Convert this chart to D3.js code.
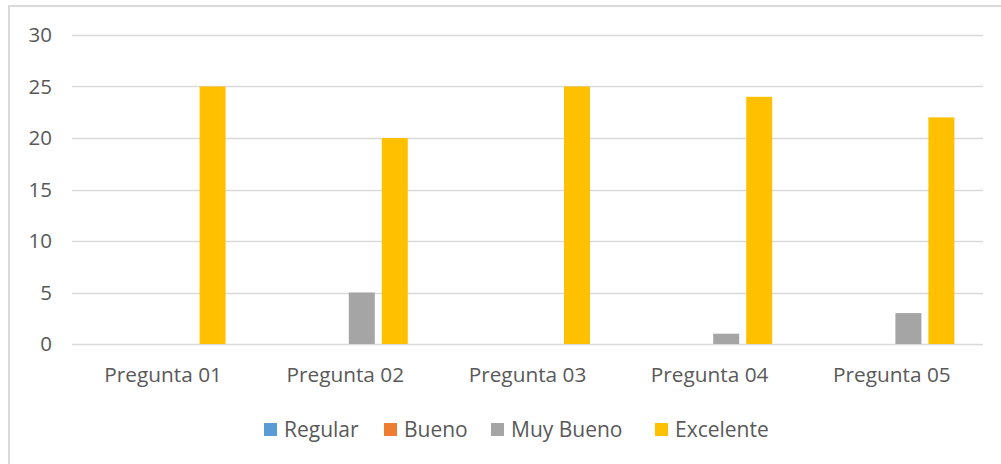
<!DOCTYPE html>
<html><head><meta charset="utf-8">
<script src="https://cdn.jsdelivr.net/npm/d3@7"></script>
<style>
html,body{margin:0;padding:0;background:#fff;}
svg{display:block;}
text{font-family:"Open Sans","Segoe UI",sans-serif;fill:#595959;}
</style></head>
<body>
<svg id="c" width="1001" height="464"></svg>
<script>
const categories = ["Pregunta 01","Pregunta 02","Pregunta 03","Pregunta 04","Pregunta 05"];
const seriesNames = ["Regular","Bueno","Muy Bueno","Excelente"];
const regular = [0,0,0,0,0];
const bueno = [0,0,0,0,0];
const muyBueno = [0,5,0,1,3];
const excelente = [25,20,25,24,22];
const yTicks = [0,5,10,15,20,25,30];
const colors = ["#5B9BD5","#ED7D31","#A5A5A5","#FFC000"];

(function(){
const seriesValues = [regular,bueno,muyBueno,excelente];
const svg = d3.select("#c");

// chart border
svg.append("rect").attr("x",9).attr("y",6).attr("width",1010).attr("height",470)
  .attr("fill","none").attr("stroke","#d9d9d9").attr("stroke-width",2);

const pL=72, pR=983, pT=35, pB=344;
const y = d3.scaleLinear().domain([0,30]).range([pB,pT]);
const x0 = d3.scaleBand().domain(categories).range([pL,pR]).padding(0);
const groupW = 125;
const x1 = d3.scaleBand().domain(seriesNames)
  .range([(x0.bandwidth()-groupW)/2,(x0.bandwidth()+groupW)/2]).paddingInner(7/33).paddingOuter(0);

// gridlines
svg.append("g").selectAll("line").data(yTicks).join("line")
  .attr("x1",pL).attr("x2",pR)
  .attr("y1",d=>Math.round(y(d))+0.5).attr("y2",d=>Math.round(y(d))+0.5)
  .attr("stroke","#d9d9d9").attr("stroke-width",1.3);

// y labels
svg.append("g").selectAll("text").data(yTicks).join("text")
  .attr("x",52).attr("y",d=>y(d)).attr("dy","0.35em")
  .attr("text-anchor","end").style("font-size","20.5px").text(d=>d);

// bars
const groups = svg.append("g").selectAll("g").data(categories).join("g")
  .attr("transform",c=>`translate(${x0(c)},0)`);
groups.selectAll("rect").data((c,i)=>seriesNames.map((s,j)=>({s,v:seriesValues[j][i],j})))
  .join("rect")
  .attr("x",d=>x1(d.s)).attr("width",x1.bandwidth())
  .attr("y",d=>y(d.v)).attr("height",d=>y(0)-y(d.v))
  .attr("fill",d=>colors[d.j]);

// x labels
svg.append("g").selectAll("text").data(categories).join("text")
  .attr("x",c=>x0(c)+x0.bandwidth()/2).attr("y",374.5).attr("dy","0.35em")
  .attr("text-anchor","middle").style("font-size","20.8px").text(c=>c);

// legend
const legendX = [264,384,491,655];
const lg = svg.append("g").selectAll("g").data(seriesNames).join("g")
  .attr("transform",(d,i)=>`translate(${legendX[i]},423)`);
lg.append("rect").attr("width",13).attr("height",13).attr("fill",(d,i)=>colors[i]);
lg.append("text").attr("x",20).attr("y",7).attr("dy","0.35em")
  .style("font-size","21px").text(d=>d);
})();
</script>
</body></html>
